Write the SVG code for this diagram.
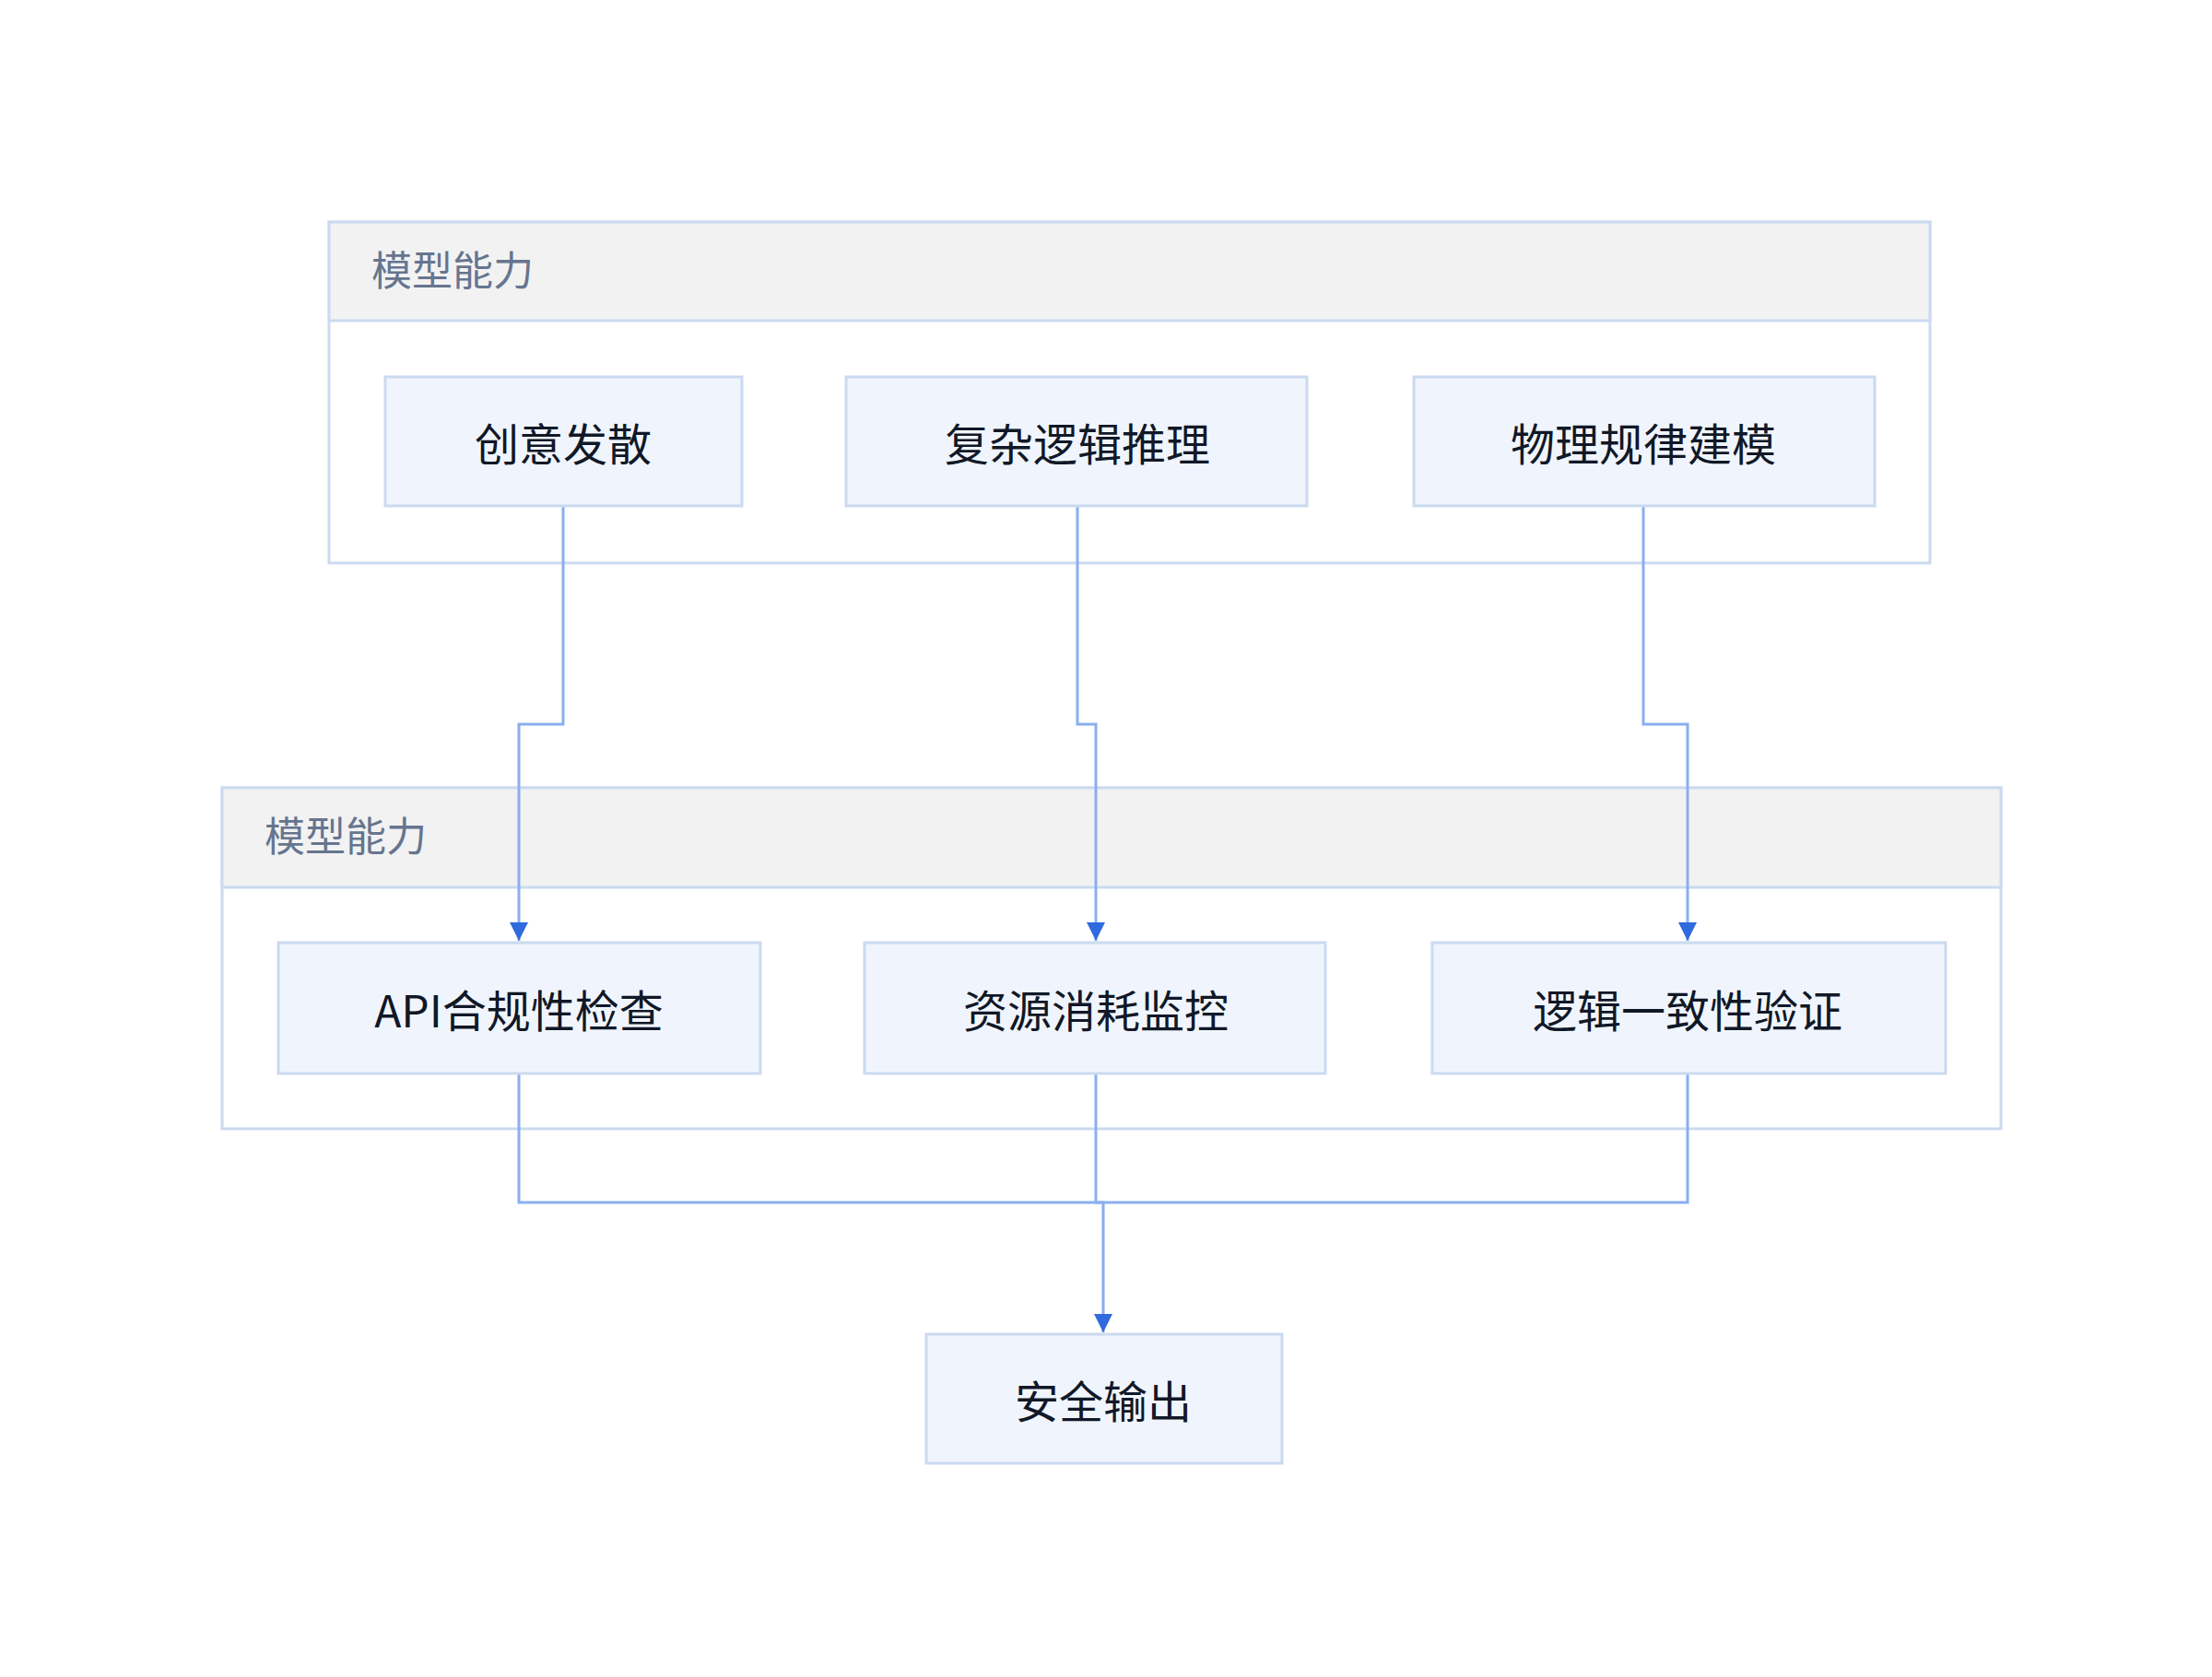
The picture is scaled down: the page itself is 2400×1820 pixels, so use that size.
<svg xmlns="http://www.w3.org/2000/svg" width="2400" height="1820" viewBox="0 0 2400 1820">
<defs>
<style>
.grp{fill:#fff;stroke:#cbdaf0;stroke-width:3}
.hdr{fill:#f2f2f2;stroke:#cbdaf0;stroke-width:3}
.gl{font-family:"Noto Sans CJK SC","Noto Sans",sans-serif;font-size:44px;fill:#66758f}
.nd{fill:#f0f5fd;stroke:#cbdaf0;stroke-width:3}
.nt{font-family:"Noto Sans CJK SC","Noto Sans",sans-serif;font-size:48px;fill:#111827;text-anchor:middle;dominant-baseline:central}
.e{fill:none;stroke:#8aaef0;stroke-width:3}
</style>
<marker id="ah" viewBox="0 0 10 10" refX="10" refY="5" markerWidth="20" markerHeight="26" markerUnits="userSpaceOnUse" orient="auto"><path d="M0,0L10,5L0,10z" fill="#2f6bdc"/></marker>
</defs>
<rect width="2400" height="1820" fill="#fff"/>
<g id="group1">
<rect class="grp" x="357" y="241" width="1737" height="370"/>
<rect class="hdr" x="357" y="241" width="1737" height="107"/>
<text class="gl" x="403" y="310">模型能力</text>
</g>
<g id="group2">
<rect class="grp" x="241" y="855" width="1930" height="370"/>
<rect class="hdr" x="241" y="855" width="1930" height="108"/>
<text class="gl" x="287" y="924">模型能力</text>
</g>
<g id="connectors">
<path class="e" d="M611,549V786H563V1021" marker-end="url(#ah)"/>
<path class="e" d="M1169,549V786H1189V1021" marker-end="url(#ah)"/>
<path class="e" d="M1783,549V786H1831V1021" marker-end="url(#ah)"/>
<path class="e" d="M563,1165V1305H1197V1446" marker-end="url(#ah)"/>
<path class="e" d="M1189,1165V1305H1197"/>
<path class="e" d="M1831,1165V1305H1197"/>
</g>
<g id="n1"><rect class="nd" x="418" y="409" width="387" height="140"/><text class="nt" x="611" y="479">创意发散</text></g>
<g id="n2"><rect class="nd" x="918" y="409" width="500" height="140"/><text class="nt" x="1169" y="479">复杂逻辑推理</text></g>
<g id="n3"><rect class="nd" x="1534" y="409" width="500" height="140"/><text class="nt" x="1783" y="479">物理规律建模</text></g>
<g id="n4"><rect class="nd" x="302" y="1023" width="523" height="142"/><text class="nt" x="563" y="1094">API合规性检查</text></g>
<g id="n5"><rect class="nd" x="938" y="1023" width="500" height="142"/><text class="nt" x="1189" y="1094">资源消耗监控</text></g>
<g id="n6"><rect class="nd" x="1554" y="1023" width="557" height="142"/><text class="nt" x="1831" y="1094">逻辑一致性验证</text></g>
<g id="n7"><rect class="nd" x="1005" y="1448" width="386" height="140"/><text class="nt" x="1197" y="1518">安全输出</text></g>
</svg>
